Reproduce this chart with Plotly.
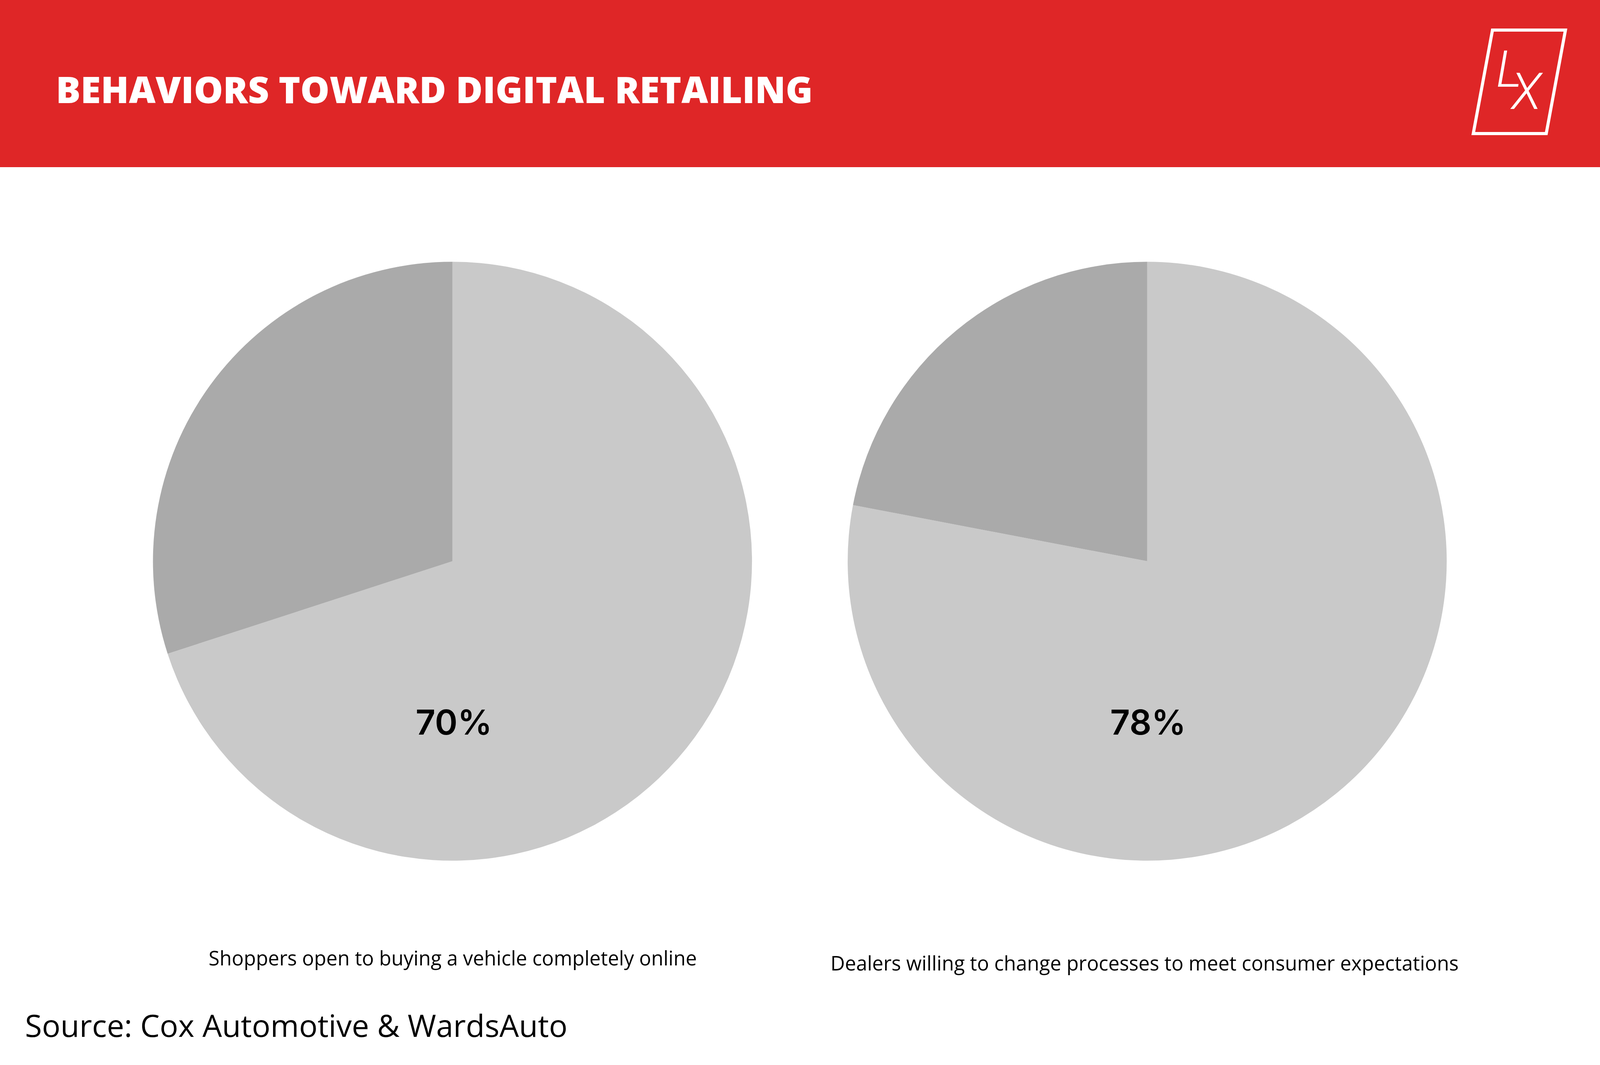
import plotly.graph_objects as go

# reference geometry is measured on a 5000 x 2727 canvas; everything is placed
# as a fraction of that, fonts are scaled to the ~4096px wide page we get
W, H = 5000, 2727
S = 4096 / W

# data
slice_labels = ["Yes", "No"]
shoppers_values = [70, 30]
dealers_values = [78, 22]
captions = [
    "Shoppers open to buying a vehicle completely online",
    "Dealers willing to change processes to meet consumer expectations",
]
title_text = "BEHAVIORS TOWARD DIGITAL RETAILING"
source_text = "Source: Cox Automotive & WardsAuto"

RED = "#DF2627"
LIGHT = "#C9C9C9"
DARK = "#AAAAAA"


def px_x(x):
    return x / W


def px_y(y):
    return 1 - y / H


fig = go.Figure()

# two pies, centred at x=1414 and x=3585, radius 936
pie_domains = [(478, 2350), (2649, 4521)]
for values, (x0, x1) in zip([shoppers_values, dealers_values], pie_domains):
    fig.add_trace(go.Pie(
        labels=slice_labels,
        values=values,
        sort=False,
        direction="clockwise",
        rotation=0,
        marker=dict(colors=[LIGHT, DARK], line=dict(width=0)),
        textinfo="none",
        hoverinfo="skip",
        domain=dict(x=[px_x(x0), px_x(x1)], y=[px_y(2373), px_y(501)]),
        showlegend=False,
    ))

annotations = []

# percentage labels inside the light slice
for values, cx in zip([shoppers_values, dealers_values], [1418, 3588]):
    annotations.append(dict(
        x=px_x(cx), y=0.322, xref="paper", yref="paper",
        text=f"{values[0]}%", showarrow=False,
        xanchor="center", yanchor="middle",
        font=dict(family="Inter", size=round(108 * S), color="#000000", weight=600),
    ))

# captions under the pies
for cap, cx, cy in zip(captions, [1415, 3577], [2452, 2465]):
    annotations.append(dict(
        x=px_x(cx), y=px_y(cy), xref="paper", yref="paper",
        text=cap, showarrow=False,
        xanchor="center", yanchor="middle",
        font=dict(family="Open Sans", size=round(62 * S), color="#000000"),
    ))

# header title
annotations.append(dict(
    x=px_x(172), y=px_y(228), xref="paper", yref="paper",
    text=title_text, showarrow=False,
    xanchor="left", yanchor="middle",
    font=dict(family="Open Sans", size=round(115 * S), color="#FFFFFF", weight=800),
))

# source line
annotations.append(dict(
    x=px_x(76), y=px_y(2624), xref="paper", yref="paper",
    text=source_text, showarrow=False,
    xanchor="left", yanchor="middle",
    font=dict(family="Open Sans", size=round(97 * S), color="#000000"),
))

# logo letters
annotations.append(dict(
    x=px_x(4716), y=px_y(178), xref="paper", yref="paper",
    text="L", showarrow=False, xanchor="center", yanchor="middle",
    font=dict(family="Roboto", size=round(158 * S), color="#FFFFFF",
              style="italic", weight=300),
))
annotations.append(dict(
    x=px_x(4770), y=px_y(234), xref="paper", yref="paper",
    text="X", showarrow=False, xanchor="center", yanchor="middle",
    font=dict(family="Roboto", size=round(158 * S), color="#FFFFFF",
              style="italic", weight=300),
))

shapes = [
    # red header band
    dict(type="rect", xref="paper", yref="paper",
         x0=0, x1=1, y0=px_y(428), y1=1,
         fillcolor=RED, line=dict(width=0), layer="below"),
    # logo frame
    dict(type="path", xref="paper", yref="paper",
         path=(f"M {px_x(4664)},{px_y(77)} L {px_x(4892)},{px_y(77)} "
               f"L {px_x(4832)},{px_y(342)} L {px_x(4604)},{px_y(342)} Z"),
         line=dict(color="#FFFFFF", width=8), fillcolor="rgba(0,0,0,0)"),
]

fig.update_layout(
    autosize=True,
    margin=dict(l=0, r=0, t=0, b=0),
    paper_bgcolor="#FFFFFF",
    plot_bgcolor="#FFFFFF",
    annotations=annotations,
    shapes=shapes,
)

# drop the default page margin so the red band runs edge to edge
fill_page = (
    "document.body.style.margin='0';"
    "document.body.style.overflow='hidden';"
    "var gd=document.getElementById('{plot_id}');"
    "gd.style.width='100%';gd.style.height='100vh';"
    "Plotly.Plots.resize(gd);"
)

fig.write_html("out.html", default_width="100%", default_height="calc(100vh - 16px)",
               config={"responsive": True, "displayModeBar": False},
               post_script=fill_page)
